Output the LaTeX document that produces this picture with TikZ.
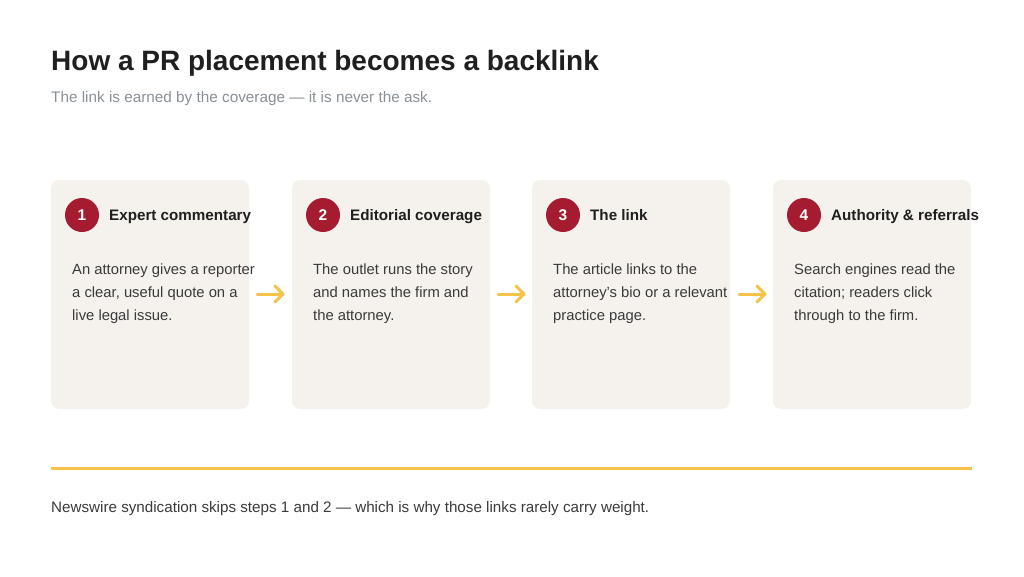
\documentclass[tikz,border=0pt]{standalone}
\usepackage{fontspec}
\setmainfont{Liberation Sans}
\usetikzlibrary{calc}
\definecolor{ink}{HTML}{1F1F1F}
\definecolor{body}{HTML}{3A3A3A}
\definecolor{sub}{HTML}{8A9096}
\definecolor{card}{HTML}{F5F2EE}
\definecolor{badge}{HTML}{A51C30}
\definecolor{gold}{HTML}{F6C34A}
\begin{document}
\begin{tikzpicture}[x=1pt,y=-1pt,
 card/.style={fill=card,rounded corners=8pt},
 badge/.style={circle,fill=badge,minimum size=34pt,inner sep=0pt,text=white,font=\fontsize{15.5}{18}\selectfont\bfseries},
 head/.style={anchor=base west,text=ink,font=\fontsize{15.2}{17}\selectfont\bfseries,inner sep=0pt},
 txt/.style={anchor=north west,text=body,align=left,font=\fontsize{14.8}{23}\selectfont,inner sep=0pt},
 arr/.style={draw=gold,line width=3pt,line cap=round,line join=round}]
\useasboundingbox (0,0) rectangle (1024,576);
\node[anchor=west,inner sep=0pt,text=ink,font=\fontsize{28}{32}\selectfont\bfseries] (title) at (51,63) {How a PR placement becomes a backlink};
\node[anchor=west,inner sep=0pt,text=sub,font=\fontsize{15.3}{18}\selectfont] (subt) at (51,99) {The link is earned by the coverage — it is never the ask.};
\foreach \i/\x/\h/\t in {
 1/51/Expert commentary/{An attorney gives a reporter\\a clear, useful quote on a\\live legal issue.},
 2/292/Editorial coverage/{The outlet runs the story\\and names the firm and\\the attorney.},
 3/532/The link/{The article links to the\\attorney’s bio or a relevant\\practice page.},
 4/773/Authority \& referrals/{Search engines read the\\citation; readers click\\through to the firm.}}{
 \fill[card] (\x,180) rectangle ++(198,229);
 \node[badge] (b\i) at (\x+31,215) {\i};
 \node[head] (h\i) at (\x+58,220.5) {\h};
 \node[txt] (t\i) at (\x+21,264) {\t};
}
\foreach \x/\n in {257/1,498/2,739/3}{
 \coordinate (a\n) at (\x,294);
 \coordinate (e\n) at (\x+26,294);
 \draw[arr] (a\n) -- (e\n);
 \draw[arr] ($(e\n)+(-8,-8)$) -- (e\n) -- ($(e\n)+(-8,8)$);
}
\coordinate (l1) at (51,468); \coordinate (l2) at (972,468);
\draw[gold,line width=3pt] (l1) -- (l2);
\node[anchor=west,inner sep=0pt,text=body,font=\fontsize{15.2}{17}\selectfont] (foot) at (51,509) {Newswire syndication skips steps 1 and 2 — which is why those links rarely carry weight.};
\end{tikzpicture}
\end{document}
